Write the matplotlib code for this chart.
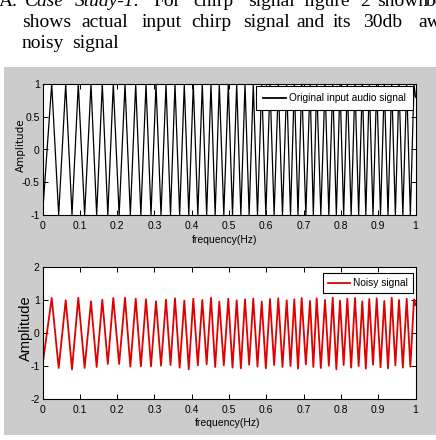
import numpy as np
import matplotlib.pyplot as plt
from matplotlib.patches import Rectangle

# times (x) of the crests and troughs of the chirp
peak_t = [0.0247, 0.0622, 0.0960, 0.1300, 0.1603, 0.1898, 0.2212, 0.2499, 0.2775, 0.3043,
          0.3311, 0.3552, 0.3802, 0.4043, 0.4284, 0.4517, 0.4740, 0.4981, 0.5206, 0.5429,
          0.5651, 0.5877, 0.6099, 0.6322, 0.6547, 0.6751, 0.6949, 0.7172, 0.7351, 0.7574,
          0.7780, 0.7976, 0.8172, 0.8378, 0.8574, 0.8761, 0.8960, 0.9164, 0.9362, 0.9558,
          0.9764, 0.9960]
trough_t = [0.0, 0.0434, 0.0791, 0.1130, 0.1452, 0.1751, 0.2055, 0.2355, 0.2637, 0.2909,
            0.3177, 0.3432, 0.3677, 0.3922, 0.4164, 0.4401, 0.4629, 0.4861, 0.5094, 0.5318,
            0.5540, 0.5764, 0.5988, 0.6210, 0.6434, 0.6649, 0.6850, 0.7060, 0.7261, 0.7462,
            0.7677, 0.7878, 0.8074, 0.8275, 0.8476, 0.8668, 0.8861, 0.9062, 0.9263, 0.9460,
            0.9661, 0.9862]

# noisy signal crest / trough heights
noisy_peaks = [1.06, 0.99, 1.07, 0.96, 1.01, 1.06, 1.07, 1.04, 1.02, 0.96,
               1.01, 1.05, 0.98, 1.04, 1.00, 1.07, 0.95, 1.04, 0.99, 1.02,
               1.04, 0.95, 1.03, 1.05, 0.99, 1.02, 1.06, 0.97, 1.05, 1.00,
               1.07, 0.98, 1.04, 1.06, 0.96, 1.03, 1.05, 0.97, 1.07, 1.00,
               1.04, 1.02]
noisy_troughs = [-0.98, -1.06, -1.10, -1.06, -1.03, -0.94, -0.94, -1.02, -1.01, -1.01,
                 -0.99, -0.97, -1.05, -1.10, -0.98, -0.95, -1.03, -0.98, -1.05, -1.07,
                 -0.96, -1.02, -1.07, -0.97, -1.03, -1.00, -1.08, -0.95, -1.03, -1.06,
                 -0.99, -1.10, -0.97, -1.05, -1.00, -1.08, -0.96, -1.04, -1.07, -0.98,
                 -1.05, -1.02]
end_t = 1.0
end_clean = 0.8
end_noisy = 0.85

x_ticks = [0, 0.1, 0.2, 0.3, 0.4, 0.5, 0.6, 0.7, 0.8, 0.9, 1]
x_tick_labels = ['0', '0.1', '0.2', '0.3', '0.4', '0.5', '0.6', '0.7', '0.8', '0.9', '1']
top_y_ticks = [-1, -0.5, 0, 0.5, 1]
top_y_labels = ['-1', '-0.5', '0', '0.5', '1']
bot_y_ticks = [-2, -1, 0, 1, 2]
bot_y_labels = ['-2', '-1', '0', '1', '2']


def interleave(lows, highs, last):
    out = np.empty(len(lows) + len(highs))
    out[0::2] = lows
    out[1::2] = highs
    return np.append(out, last)


t = interleave(trough_t, peak_t, end_t)
clean = interleave(-np.ones(len(trough_t)), np.ones(len(peak_t)), end_clean)
noisy = interleave(noisy_troughs, noisy_peaks, end_noisy)

sans = ['Liberation Sans', 'DejaVu Sans']
serif = ['Liberation Serif', 'DejaVu Serif']

fig = plt.figure(figsize=(4.36, 4.40), dpi=100)
fig.patch.set_facecolor('white')
W, H = 436.0, 440.0

# grey matlab figure area
fig.patches.append(Rectangle((4 / W, 1 - 435 / H), 1 - 4 / W, (435 - 67) / H,
                             transform=fig.transFigure, facecolor='#cccccc',
                             edgecolor='none', zorder=-5))

# bit of paper text above the figure
paper = [
    (6, [(-1, 'A.', 'normal'), (25, 'Case', 'italic'), (75, 'Study-1:', 'italic'),
         (153, 'For', 'normal'), (193, 'chirp', 'normal'), (248, 'signal', 'normal'),
         (303, 'figure', 'normal'), (360, '2', 'normal'), (377, 'shown', 'normal'),
         (425, 'bel', 'normal')]),
    (27, [(21.7, 'shows', 'normal'), (81.7, 'actual', 'normal'), (141.7, 'input', 'normal'),
          (191.7, 'chirp', 'normal'), (243, 'signal', 'normal'), (296.7, 'and', 'normal'),
          (333, 'its', 'normal'), (363, '30db', 'normal'), (418, 'aw', 'normal')]),
    (48.5, [(21.7, 'noisy', 'normal'), (71.7, 'signal', 'normal')]),
]
for base, words in paper:
    for px, word, style in words:
        fig.text(px / W, 1 - base / H, word, family=serif, style=style,
                 fontsize=14, va='baseline', ha='left')


def style_axes(ax, yticks, ylabels):
    ax.set_xlim(0, 1)
    ax.set_xticks(x_ticks)
    ax.set_xticklabels(x_tick_labels, family=sans, fontsize=7.5)
    ax.set_yticks(yticks)
    ax.set_yticklabels(ylabels, family=sans, fontsize=7.5)
    ax.set_ylim(yticks[0], yticks[-1])
    ax.tick_params(direction='in', length=3.5, width=0.7, top=True, right=True)
    ax.tick_params(axis='x', pad=4.5)
    ax.tick_params(axis='y', pad=2)
    for s in ax.spines.values():
        s.set_linewidth(0.8)
    ax.set_facecolor('white')


ax1 = fig.add_axes([42.5 / W, 1 - 215 / H, 373 / W, 131 / H])
ax1.plot(t, clean, color='black', lw=0.9, label='Original input audio signal')
style_axes(ax1, top_y_ticks, top_y_labels)
ax1.set_xlabel('frequency(Hz)', family=sans, fontsize=7.5)
ax1.xaxis.set_label_coords(0.489, -0.15)
ax1.set_ylabel('Amplitude', family='DejaVu Sans', fontsize=7.5)
ax1.yaxis.set_label_coords(-0.045, 0.534)
leg1 = ax1.legend(loc='upper right', bbox_to_anchor=(0.9925, 0.985), borderaxespad=0,
                  fancybox=False, edgecolor='black', framealpha=1,
                  prop={'family': sans, 'size': 7.3}, handlelength=2.3,
                  handletextpad=0.25, borderpad=0.7)
leg1.get_frame().set_linewidth(0.8)
leg1.get_lines()[0].set_linewidth(1.3)

ax2 = fig.add_axes([42.5 / W, 1 - 399 / H, 373 / W, 132 / H])
ax2.plot(t, noisy, color='#e00000', lw=1.3, label='Noisy signal')
style_axes(ax2, bot_y_ticks, bot_y_labels)
ax2.set_xlabel('frequency(Hz)', family=sans, fontsize=7.5)
ax2.xaxis.set_label_coords(0.497, -0.145)
ax2.set_ylabel('Amplitude', family=sans, fontsize=10.5)
ax2.yaxis.set_label_coords(-0.025, 0.536)
leg2 = ax2.legend(loc='upper right', bbox_to_anchor=(0.9925, 0.952), borderaxespad=0,
                  fancybox=False, edgecolor='black', framealpha=1,
                  prop={'family': sans, 'size': 7.3}, handlelength=2.2,
                  handletextpad=0.25, borderpad=0.5)
leg2.get_frame().set_linewidth(0.8)

fig.savefig('out.png', dpi=100, facecolor='white')
